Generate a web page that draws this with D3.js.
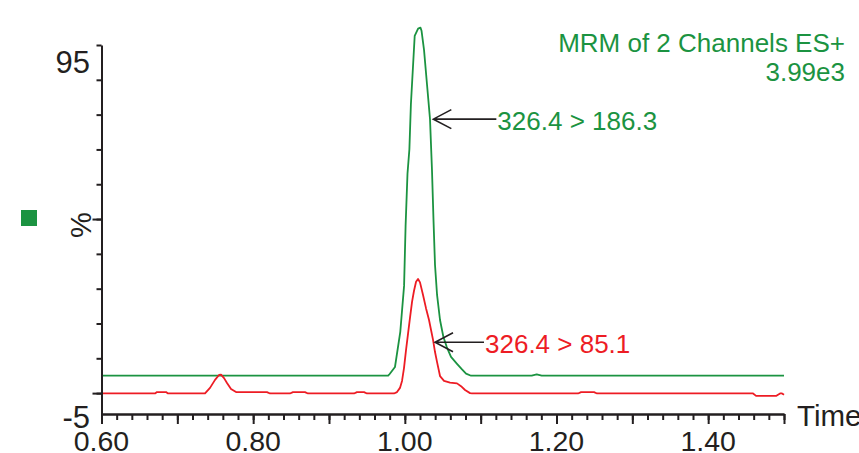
<!DOCTYPE html>
<html><head><meta charset="utf-8">
<script src="https://cdn.jsdelivr.net/npm/d3@7/dist/d3.min.js"></script>
<style>html,body{margin:0;padding:0;background:#fff;overflow:hidden}</style>
</head><body>
<svg id="c" width="859" height="453"></svg>
<script>
// ---- data ----
const greenTime = [0.600, 0.978, 0.980, 0.987, 0.994, 0.999, 1.001, 1.0035, 1.006, 1.008, 1.013, 1.0175, 1.0206, 1.0220, 1.0253, 1.0293, 1.0332, 1.0358, 1.0378, 1.0398, 1.0425, 1.0464, 1.0508, 1.0552, 1.0609, 1.0688, 1.0754, 1.0807, 1.0873, 1.1673, 1.1739, 1.1805, 1.500];
const greenPct  = [0, 0, 0.5, 2.5, 12.6, 25.8, 43, 58, 65, 78, 97.6, 99.7, 100, 99.1, 93.6, 83.5, 73.7, 59.1, 44.7, 31.8, 23.2, 16.0, 11.2, 8.3, 5.4, 3.4, 1.8, 0.6, 0, 0, 0.4, 0, 0];

const redTime = [0.600, 0.6706, 0.6732, 0.6851, 0.6877, 0.7365, 0.7431, 0.7497, 0.7550, 0.7576, 0.7616, 0.7655, 0.7708, 0.7774, 0.8182, 0.8222, 0.8485, 0.8525, 0.8683, 0.8723, 0.9330, 0.9369, 0.9462, 0.9501, 0.9857, 0.9897, 0.9936, 0.9963, 0.9989, 1.0016, 1.0042, 1.0068, 1.0095, 1.0121, 1.0148, 1.0174, 1.0200, 1.0240, 1.0279, 1.0319, 1.0345, 1.0372, 1.0398, 1.0425, 1.0464, 1.0517, 1.0596, 1.0688, 1.0741, 1.0794, 1.0860, 1.0886, 1.2284, 1.2324, 1.2495, 1.2535, 1.4592, 1.4632, 1.4895, 1.4948, 1.4974, 1.500];
const redPct  = [-5.1, -5.1, -4.7, -4.7, -5.1, -5.1, -3.5, -1.2, 0.2, 0.3, -0.7, -2.1, -3.8, -4.7, -4.7, -5.1, -5.1, -4.7, -4.7, -5.1, -5.1, -4.7, -4.7, -5.1, -5.1, -4.7, -3.5, -1.5, 2.2, 7.4, 12.0, 16.6, 21.2, 24.4, 27.0, 27.8, 26.8, 23.2, 19.4, 16.0, 13.2, 10.3, 6.8, 3.9, -0.1, -1.5, -2.0, -2.2, -3.0, -4.1, -5.0, -5.1, -5.1, -4.7, -4.7, -5.1, -5.1, -5.8, -5.8, -5.1, -5.1, -5.5];

const xLabelValues = [0.6, 0.8, 1.0, 1.2, 1.4];
const xLabelTexts  = ["0.60", "0.80", "1.00", "1.20", "1.40"];
const yLabelValues = [95, -5];
const yLabelTexts  = ["95", "-5"];
const yTickValues  = [95, 85, 75, 65, 55, 45, 35, 25, 15, 5, -5];

const channelLabels = ["326.4 > 186.3", "326.4 > 85.1"];
const arrowTime = [1.0376, 1.0398];
const arrowPct  = [73.7, 9.6];
const titleLines = ["MRM of 2 Channels ES+", "3.99e3"];

// ---- drawing ----
const GREEN = "#1b9341", RED = "#ed1c24", INK = "#231f20";
const FONT = "'Liberation Sans', Arial, Helvetica, sans-serif";
const svg = d3.select("#c");
const x = d3.scaleLinear().domain([0.6, 1.5]).range([101.5, 784]);
const y = d3.scaleLinear().domain([-11, 95]).range([414, 45]);

// traces
const line = d3.line().x(d => x(d[0])).y(d => y(d[1]));
svg.append("path").datum(greenTime.map((t, i) => [t, greenPct[i]]))
  .attr("d", line).attr("fill", "none").attr("stroke", GREEN).attr("stroke-width", 1.8).attr("stroke-linejoin", "round");
svg.append("path").datum(redTime.map((t, i) => [t, redPct[i]]))
  .attr("d", line).attr("fill", "none").attr("stroke", RED).attr("stroke-width", 1.8).attr("stroke-linejoin", "round");

// x axis
const minor = d3.range(0, 46).map(i => +(0.6 + i * 0.02).toFixed(2));
const major = d3.range(0, 10).map(i => +(0.6 + i * 0.1).toFixed(1));
function styleAxis(g) {
  g.selectAll("path,line").attr("stroke", INK).attr("stroke-width", 2);
  g.selectAll("text").remove();
}
svg.append("g").attr("transform", "translate(0,414)")
  .call(d3.axisBottom(x).tickValues(minor).tickSize(6).tickSizeOuter(0)).call(styleAxis);
svg.append("g").attr("transform", "translate(0,414)")
  .call(d3.axisBottom(x).tickValues(major).tickSize(10).tickSizeOuter(0)).call(styleAxis);
svg.selectAll("text.xl").data(xLabelValues).enter().append("text")
  .attr("x", d => x(d)).attr("y", 451).attr("text-anchor", "middle")
  .attr("font-family", FONT).attr("font-size", 28.5).attr("fill", INK)
  .text((d, i) => xLabelTexts[i]);
svg.append("text").attr("x", 797).attr("y", 426).attr("font-family", FONT).attr("font-size", 29.5).attr("fill", INK).text("Time");

// y axis
svg.append("g").attr("transform", "translate(101.5,0)")
  .call(d3.axisLeft(y).tickValues(yTickValues).tickSize(5).tickSizeOuter(0)).call(styleAxis);
svg.append("g").attr("transform", "translate(101.5,0)")
  .call(d3.axisLeft(y).tickValues([45, -5]).tickSize(9).tickSizeOuter(0)).call(styleAxis)
  .select("path").remove();
svg.selectAll("text.yl").data(yLabelValues).enter().append("text")
  .attr("x", 90).attr("y", (d, i) => y(d) + (i === 0 ? 28 : 35)).attr("text-anchor", "end")
  .attr("font-family", FONT).attr("font-size", 31).attr("fill", INK)
  .text((d, i) => yLabelTexts[i]);
svg.append("text").attr("transform", "translate(91," + (y(45) + 6) + ") rotate(-90)")
  .attr("text-anchor", "middle").attr("font-family", FONT).attr("font-size", 29).attr("fill", INK).text("%");

// legend square
svg.append("rect").attr("x", 21).attr("y", 210).attr("width", 16).attr("height", 16).attr("fill", GREEN);

// title
svg.selectAll("text.tt").data(titleLines).enter().append("text")
  .attr("x", 845).attr("y", (d, i) => i === 0 ? 52 : 81).attr("text-anchor", "end")
  .attr("font-family", FONT).attr("font-size", 26).attr("fill", GREEN).text(d => d);

// arrows + channel labels
const arrowColors = [GREEN, RED];
const textGap = [64, 50];
channelLabels.forEach((lab, i) => {
  const tx = x(arrowTime[i]), ty = y(arrowPct[i]);
  const g = svg.append("g");
  g.append("path")
    .attr("d", `M${tx + textGap[i] - 1},${ty} L${tx},${ty} M${tx + 18},${ty - 9.5} L${tx},${ty} L${tx + 18},${ty + 9.5}`)
    .attr("fill", "none").attr("stroke", INK).attr("stroke-width", 1.6);
  g.append("text").attr("x", tx + textGap[i]).attr("y", ty + 11)
    .attr("font-family", FONT).attr("font-size", 26).attr("fill", arrowColors[i]).text(lab);
});
</script>
</body></html>
